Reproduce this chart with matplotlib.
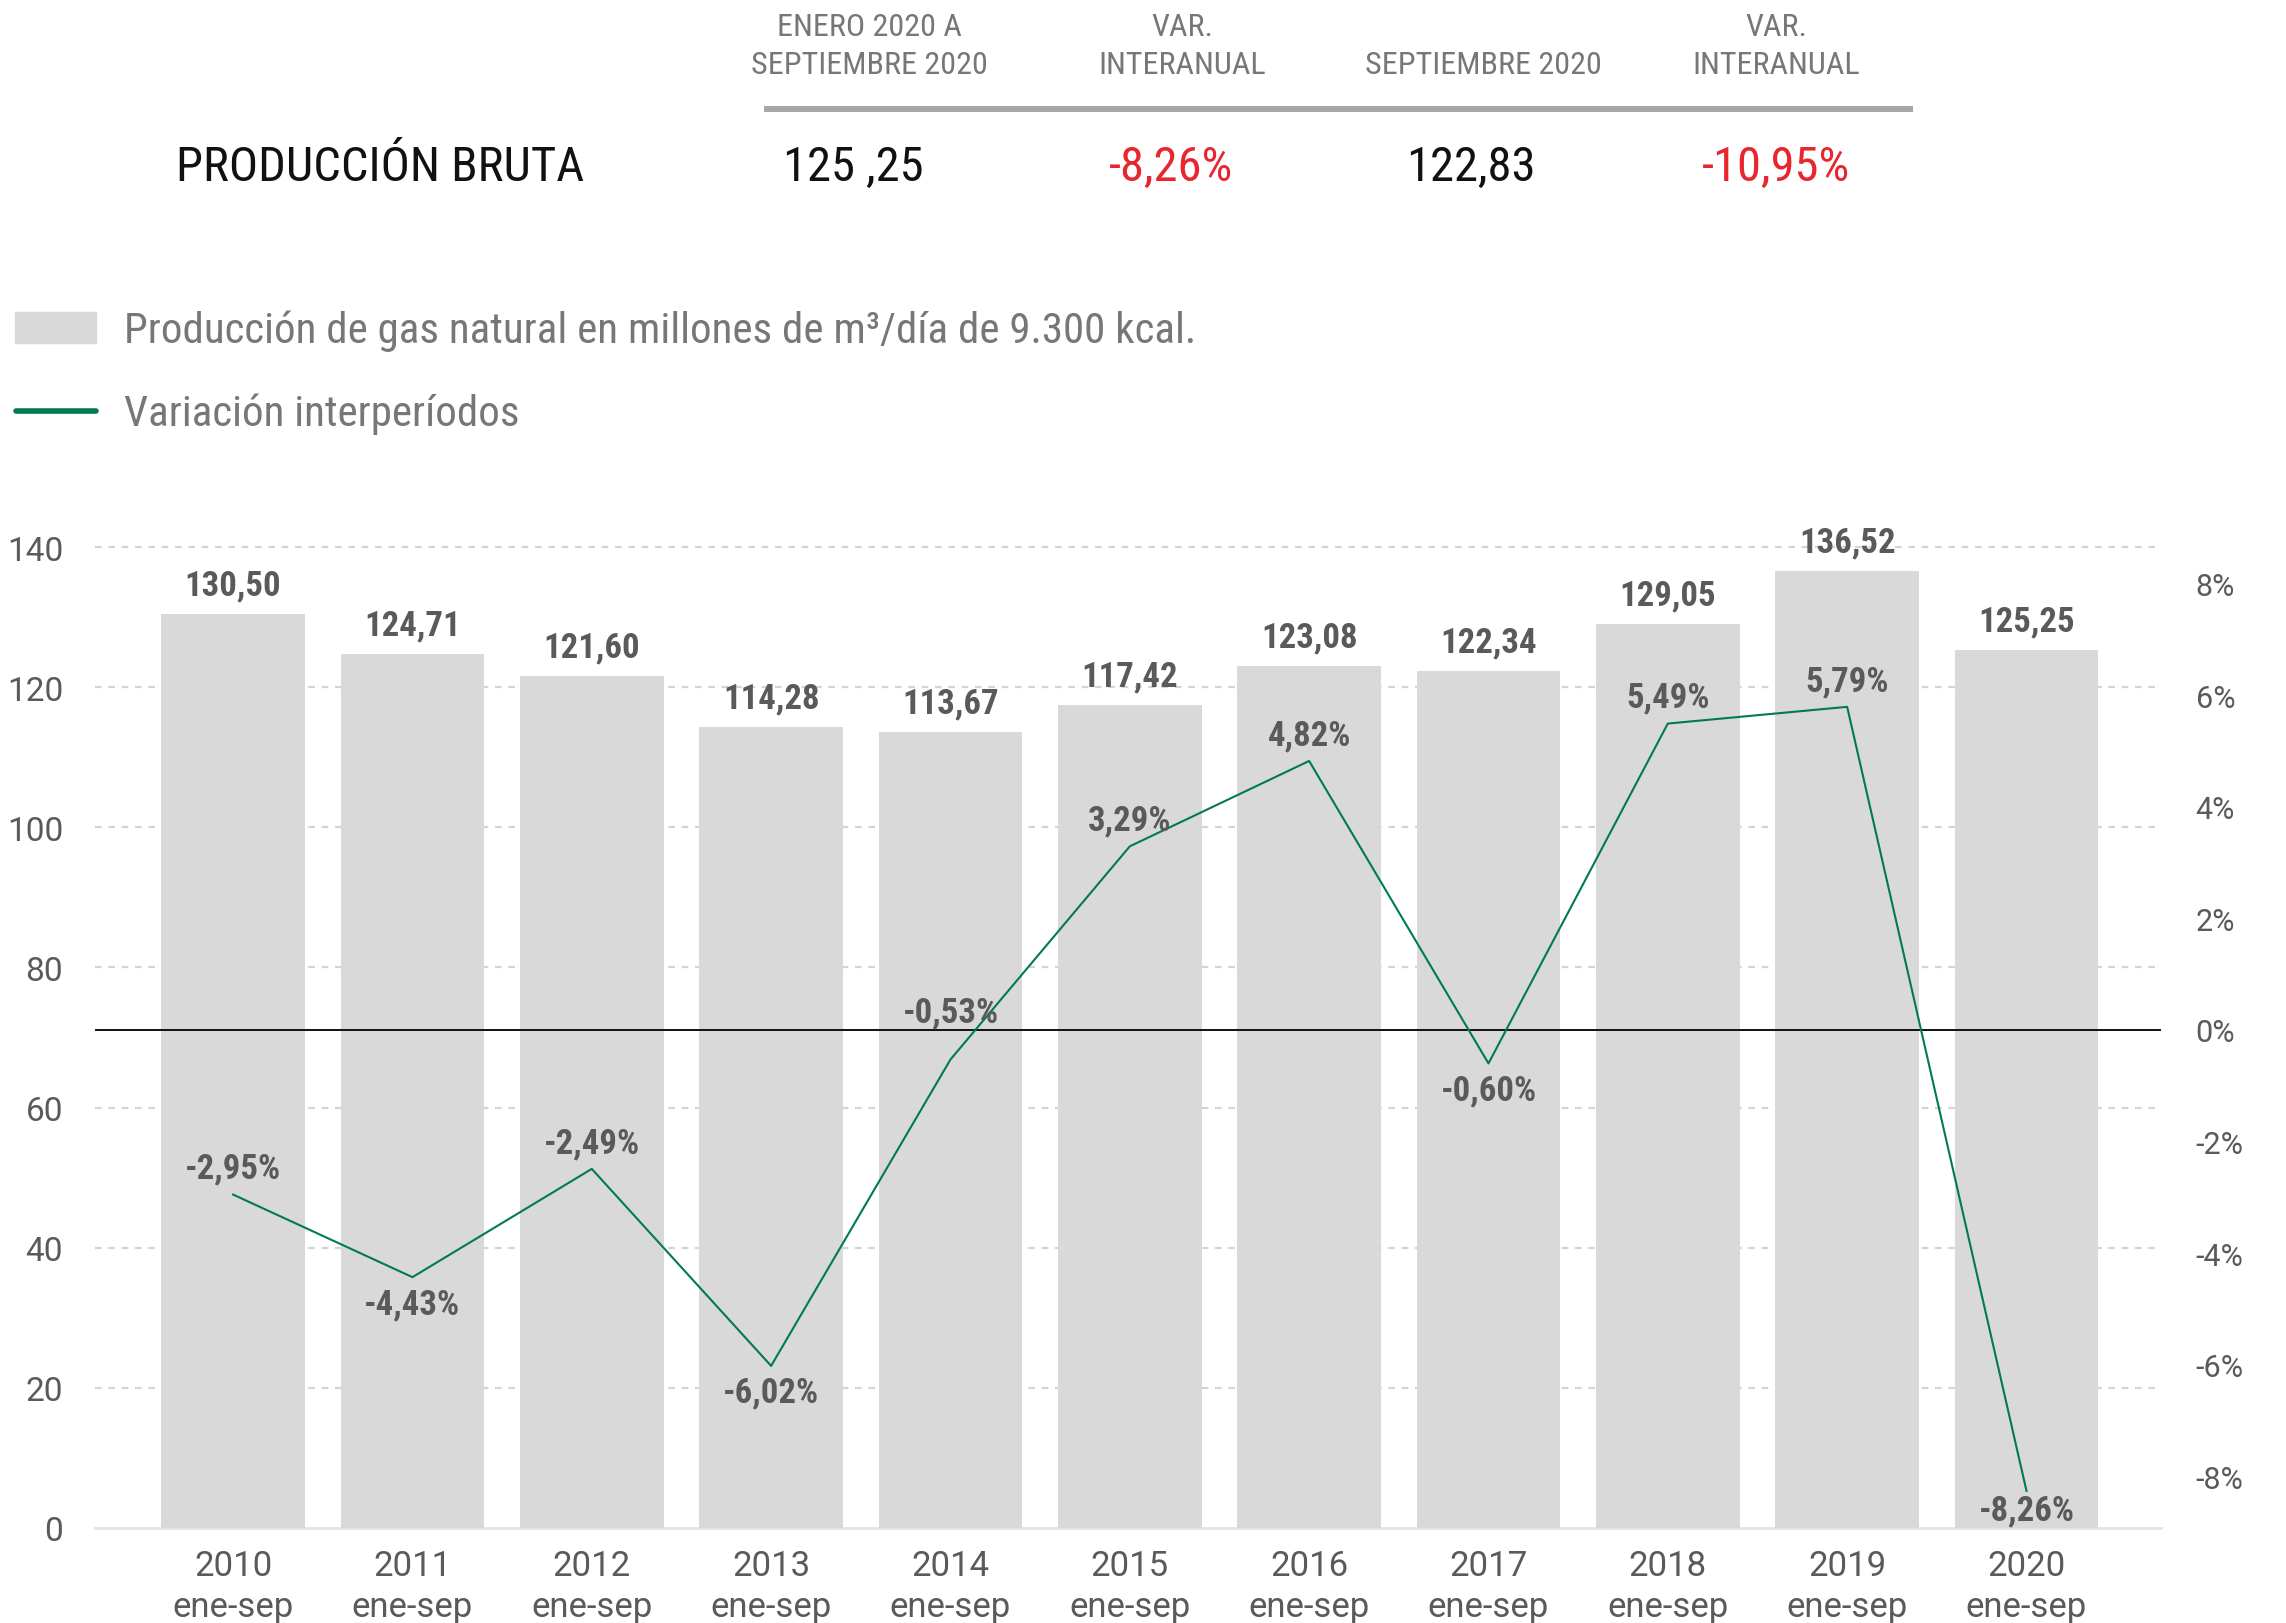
import matplotlib
matplotlib.use("Agg")
import matplotlib.pyplot as plt
from matplotlib import font_manager
from matplotlib.patches import Rectangle
from matplotlib.lines import Line2D
import numpy as np

# ---------------- data ----------------
years = ["2010", "2011", "2012", "2013", "2014", "2015", "2016", "2017", "2018", "2019", "2020"]
period = "ene-sep"
production = [130.50, 124.71, 121.60, 114.28, 113.67, 117.42, 123.08, 122.34, 129.05, 136.52, 125.25]
variation = [-2.95, -4.43, -2.49, -6.02, -0.53, 3.29, 4.82, -0.60, 5.49, 5.79, -8.26]
left_ticks = [0, 20, 40, 60, 80, 100, 120, 140]
right_ticks = [-8, -6, -4, -2, 0, 2, 4, 6, 8]

header_cols = [["ENERO 2020 A", "SEPTIEMBRE 2020"], ["VAR.", "INTERANUAL"],
               ["", "SEPTIEMBRE 2020"], ["VAR.", "INTERANUAL"]]
row_label = "PRODUCCIÓN BRUTA"
row_values = ["125 ,25", "-8,26%", "122,83", "-10,95%"]
row_colors = ["#111111", "#e8262f", "#111111", "#e8262f"]
legend_bar = "Producción de gas natural en millones de m³/día de 9.300 kcal."
legend_line = "Variación interperíodos"

def fmt(v, dec=2):
    return f"{v:.{dec}f}".replace(".", ",")

# ---------------- fonts ----------------
avail = {f.name for f in font_manager.fontManager.ttflist}
cond = None
for cand in ["Roboto Condensed", "Liberation Sans Narrow", "Roboto"]:
    if cand in avail:
        cond = cand
        break
base = "Roboto" if "Roboto" in avail else "DejaVu Sans"
plt.rcParams["font.family"] = [base, "DejaVu Sans"]

W, H = 2286, 1624
fig = plt.figure(figsize=(W / 100, H / 100), dpi=100)

def P(x, y):
    return (x / W, 1 - y / H)

GREEN = "#007a53"
GREY_TXT = "#5a5a5a"
BAR = "#d9d9d9"

# ---------------- axes ----------------
ax_l, ax_r, ax_t, ax_b = 95, 2161, 546, 1529
ax = fig.add_axes([ax_l / W, 1 - ax_b / H, (ax_r - ax_l) / W, (ax_b - ax_t) / H])
x = np.arange(len(years))
ax.bar(x, production, width=0.8, color=BAR, zorder=2)
ax.set_xlim(-0.77, 10.75)
ax.set_ylim(0, 140.3)
for t in left_ticks[1:]:
    ax.axhline(t, color="#d4d4d4", lw=1.6, ls=(0, (3, 3)), zorder=1)
for s in ["top", "right", "left"]:
    ax.spines[s].set_visible(False)
ax.spines["bottom"].set_color("#e4e4e4")
ax.spines["bottom"].set_linewidth(2)
ax.spines["bottom"].set_zorder(1)
ax.set_yticks(left_ticks)
ax.set_yticklabels([str(t) for t in left_ticks])
ax.tick_params(axis="y", length=0, pad=23, labelsize=24, labelcolor=GREY_TXT)
ax.set_xticks(x)
ax.set_xticklabels([f"{y}\n{period}" for y in years], linespacing=1.3)
ax.tick_params(axis="x", length=0, pad=15, labelsize=25, labelcolor=GREY_TXT)

for xi, v in zip(x, production):
    ax.annotate(fmt(v), (xi, v), xytext=(0, 21), textcoords="offset points",
                ha="center", va="center", fontsize=25, fontweight="bold",
                color=GREY_TXT, family=[cond, "DejaVu Sans"], zorder=5)

ax2 = ax.twinx()
ax2.set_ylim(-8.925, 8.69)
for s in ["top", "right", "left", "bottom"]:
    ax2.spines[s].set_visible(False)
ax2.axhline(0, color="#111111", lw=1.4, zorder=3)
ax2.plot(x, variation, color=GREEN, lw=1.5, zorder=4)
ax2.set_yticks(right_ticks)
ax2.set_yticklabels([f"{t}%" for t in right_ticks])
ax2.tick_params(axis="y", length=0, pad=25, labelsize=22, labelcolor=GREY_TXT)

offsets = {"2011": -19, "2013": -19, "2017": -19, "2020": -14, "2014": 34}
for xi, yr, v in zip(x, years, variation):
    dy = offsets.get(yr, 19)
    ax2.annotate(fmt(v) + "%", (xi, v), xytext=(0, dy), textcoords="offset points",
                 ha="center", va="center", fontsize=25, fontweight="bold",
                 color=GREY_TXT, family=[cond, "DejaVu Sans"], zorder=5)

# ---------------- header table ----------------
col_x = [869, 1182, 1483, 1776]
for cx, lines in zip(col_x, header_cols):
    for ly, txt in zip([27, 65], lines):
        if txt:
            fig.text(*P(cx, ly), txt, ha="center", va="center", fontsize=23,
                     color="#777777", family=[cond, "DejaVu Sans"])
fig.add_artist(Line2D([767 / W, 1910 / W], [1 - 110 / H, 1 - 110 / H],
                      color="#a6a6a6", lw=4.3, transform=fig.transFigure))
fig.text(*P(176, 168), row_label, ha="left", va="center", fontsize=35,
         color="#111111", family=[cond, "DejaVu Sans"])
val_x = [853, 1171, 1471, 1776]
for vx, txt, c in zip(val_x, row_values, row_colors):
    fig.text(*P(vx, 168), txt, ha="center", va="center", fontsize=35,
             color=c, family=[cond, "DejaVu Sans"])

# ---------------- legend ----------------
fig.add_artist(Rectangle(P(15, 344), 81 / W, 31 / H, color=BAR,
                         transform=fig.transFigure))
fig.text(*P(124, 331), legend_bar, ha="left", va="center", fontsize=31,
         color="#777777", family=[cond, "DejaVu Sans"])
fig.add_artist(Line2D([16 / W, 96 / W], [1 - 412 / H, 1 - 412 / H], color=GREEN,
                      lw=4.0, solid_capstyle="round", transform=fig.transFigure))
fig.text(*P(124, 414), legend_line, ha="left", va="center", fontsize=31,
         color="#777777", family=[cond, "DejaVu Sans"])

fig.savefig("out.png", dpi=100)
